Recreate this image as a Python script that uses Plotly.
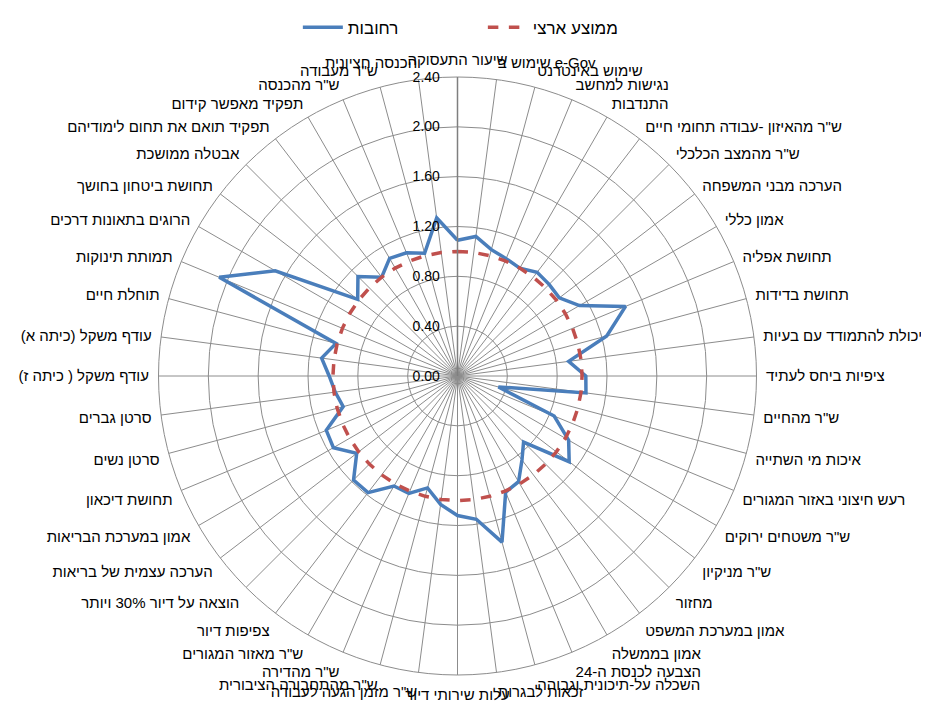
import plotly.graph_objects as go

categories = [
    'שיעור התעסוקה',
    'שימוש ב e-Gov',
    'שימוש באינטרנט',
    'נגישות למחשב',
    'התנדבות',
    'ש"ר מהאיזון -עבודה תחומי חיים',
    'ש"ר מהמצב הכלכלי',
    'הערכה מבני המשפחה',
    'אמון כללי',
    'תחושת אפליה',
    'תחושת בדידות',
    'יכולת להתמודד עם בעיות',
    'ציפיות ביחס לעתיד',
    'ש"ר מהחיים',
    'איכות מי השתייה',
    'רעש חיצוני באזור המגורים',
    'ש"ר משטחים ירוקים',
    'ש"ר מניקיון',
    'מחזור',
    'אמון במערכת המשפט',
    'אמון בממשלה',
    'הצבעה לכנסת ה-24',
    'השכלה על-תיכונית וגבוהה',
    'זכאות לבגרות',
    'עלות שירותי דיור',
    'ש"ר מזמן הגעה לעבודה',
    'ש"ר מהתחבורה הציבורית',
    'ש"ר מהדירה',
    'ש"ר מאזור המגורים',
    'צפיפות דיור',
    'הוצאה על דיור 30% ויותר',
    'הערכה עצמית של בריאות',
    'אמון במערכת הבריאות',
    'תחושת דיכאון',
    'סרטן נשים',
    'סרטן גברים',
    'עודף משקל ( כיתה ז)',
    'עודף משקל (כיתה א)',
    'תוחלת חיים',
    'תמותת תינוקות',
    'הרוגים בתאונות דרכים',
    'תחושת ביטחון בחושך',
    'אבטלה ממושכת',
    'תפקיד תואם את תחום לימודיהם',
    'תפקיד מאפשר קידום',
    'ש"ר מהכנסה',
    'ש"ר מעבודה',
    'הכנסה חציונית',
]

rehovot = [
    1.09, 1.13, 1.05, 1.02, 1.00, 1.05, 1.04, 1.03,
    1.13, 1.46, 1.24, 0.90, 1.03, 1.04, 0.34, 0.84,
    1.03, 1.13, 0.75, 0.85, 0.98, 1.01, 1.38, 1.16,
    1.12, 1.04, 0.93, 1.02, 1.02, 1.18, 1.18, 1.02,
    1.15, 1.14, 0.95, 0.99, 1.03, 1.10, 1.01, 2.07,
    1.69, 1.01, 1.13, 1.00, 1.09, 1.07, 1.02, 1.28,
]

national = [
    1.00, 1.00, 1.00, 1.00, 1.00, 1.00, 1.00, 1.00,
    1.00, 1.00, 1.00, 1.00, 1.00, 1.00, 1.00, 1.00,
    1.00, 1.00, 1.00, 1.00, 1.00, 1.00, 1.00, 1.00,
    1.00, 1.00, 1.00, 1.00, 1.00, 1.00, 1.00, 1.00,
    1.00, 1.00, 1.00, 1.00, 1.00, 1.00, 1.00, 1.00,
    1.00, 1.00, 1.00, 1.00, 1.00, 1.00, 1.00, 1.00,
]

radial_ticks = [0.0, 0.4, 0.8, 1.2, 1.6, 2.0, 2.4]

series_names = ['רחובות', 'ממוצע ארצי']

FONT = 'Liberation Sans, Arial, DejaVu Sans, sans-serif'

theta_closed = categories + categories[:1]

fig = go.Figure()
fig.add_trace(go.Scatterpolar(
    r=rehovot + rehovot[:1],
    theta=theta_closed,
    mode='lines',
    name=series_names[0],
    line=dict(color='#4a7ebb', width=3.5),
))
fig.add_trace(go.Scatterpolar(
    r=national + national[:1],
    theta=theta_closed,
    mode='lines',
    name=series_names[1],
    line=dict(color='#c0504d', width=3.5, dash='dash'),
))

fig.update_layout(
    width=929,
    height=705,
    margin=dict(l=2, r=32, t=69, b=38),
    paper_bgcolor='white',
    plot_bgcolor='white',
    font=dict(family=FONT, size=15, color='#000000'),
    showlegend=True,
    legend=dict(
        orientation='h',
        xref='container', x=0.312, xanchor='left',
        yref='container', y=0.972, yanchor='middle',
        font=dict(family=FONT, size=17, color='#000000'),
        itemwidth=40,
        entrywidth=130,
        bgcolor='rgba(0,0,0,0)',
    ),
    polar=dict(
        bgcolor='white',
        gridshape='circular',
        angularaxis=dict(
            rotation=90,
            direction='clockwise',
            type='category',
            categoryorder='array',
            categoryarray=categories,
            showgrid=True,
            gridcolor='#8c8c8c',
            gridwidth=1,
            showline=True,
            linecolor='#8c8c8c',
            linewidth=1,
            ticks='outside',
            ticklen=6,
            tickcolor='rgba(0,0,0,0)',
            tickfont=dict(family=FONT, size=15, color='#000000'),
        ),
        radialaxis=dict(
            range=[0, 2.4],
            angle=90,
            side='counterclockwise',
            tickvals=radial_ticks,
            tickformat='.2f',
            showgrid=True,
            gridcolor='#8c8c8c',
            gridwidth=1,
            showline=True,
            linecolor='#7f7f7f',
            linewidth=1.5,
            ticks='outside',
            ticklen=12,
            tickcolor='rgba(0,0,0,0)',
            tickangle=90,
            tickfont=dict(family=FONT, size=14, color='#000000'),
        ),
    ),
)

fig.write_html('out.html')
